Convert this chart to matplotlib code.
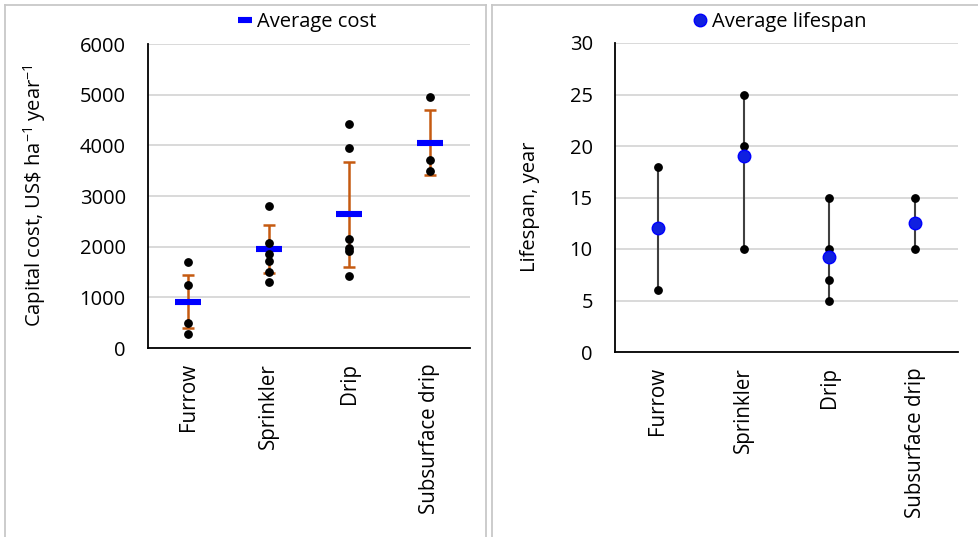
import matplotlib
matplotlib.use('Agg')
import matplotlib.pyplot as plt
from matplotlib.lines import Line2D

# ---------------- data ----------------
categories = ['Furrow', 'Sprinkler', 'Drip', 'Subsurface drip']

cost_points = [
    [1700, 1240, 490, 280],
    [2800, 2080, 1850, 1720, 1500, 1310],
    [4430, 3950, 2150, 1970, 1920, 1430],
    [4950, 3710, 3500],
]
cost_avg = [914, 1954, 2638, 4053]
cost_err_low = [388, 1474, 1592, 3414]
cost_err_high = [1441, 2434, 3671, 4691]

life_points = [
    [18, 6],
    [25, 20, 10],
    [15, 10, 7, 5],
    [15, 10],
]
life_avg = [12, 19, 9.25, 12.5]

cost_ticks = [0, 1000, 2000, 3000, 4000, 5000, 6000]
life_ticks = [0, 5, 10, 15, 20, 25, 30]

# ---------------- style ----------------
plt.rcParams['font.family'] = ['Open Sans', 'DejaVu Sans']
plt.rcParams['mathtext.fontset'] = 'custom'
plt.rcParams['mathtext.rm'] = 'Open Sans'
plt.rcParams['mathtext.it'] = 'Open Sans'
plt.rcParams['mathtext.bf'] = 'Open Sans'

W, H = 979, 537
fig = plt.figure(figsize=(W / 100, H / 100), dpi=100)

def fx(px):
    return px / W

def fy(py):
    return 1 - py / H

grid_c = '#d9d9d9'
err_c = '#C55A11'
blue = '#0000ff'
blue2 = '#1020e0'

def style_axes(ax, ticks):
    ax.set_ylim(ticks[0], ticks[-1])
    ax.set_yticks(ticks)
    ax.set_xlim(-0.5, len(categories) - 0.5)
    ax.set_xticks(range(len(categories)))
    ax.set_xticklabels(categories, rotation=90)
    ax.tick_params(axis='both', length=0, labelsize=14.5)
    ax.tick_params(axis='x', labelsize=14.8, pad=11)
    ax.tick_params(axis='y', pad=16)
    ax.grid(axis='y', color=grid_c, linewidth=1.4)
    ax.set_axisbelow(True)
    for s in ['top', 'right']:
        ax.spines[s].set_visible(False)
    for s in ['left', 'bottom']:
        ax.spines[s].set_color('black')
        ax.spines[s].set_linewidth(1.3)

# ---------------- left panel ----------------
ax1 = fig.add_axes([fx(148), fy(348), fx(470) - fx(148), fy(44) - fy(348)])
style_axes(ax1, cost_ticks)
x = list(range(len(categories)))
yerr = [[a - l for a, l in zip(cost_avg, cost_err_low)],
        [h - a for a, h in zip(cost_avg, cost_err_high)]]
ax1.errorbar(x, cost_avg, yerr=yerr, fmt='none', ecolor=err_c,
             elinewidth=1.8, capsize=4.5, capthick=1.8, zorder=2)
ax1.plot(x, cost_avg, linestyle='none', marker='_', markersize=19,
         markeredgewidth=4.4, color=blue, zorder=3)
for i, pts in enumerate(cost_points):
    ax1.plot([i] * len(pts), pts, linestyle='none', marker='o',
             markersize=5.3, color='black', zorder=4)
ax1.set_ylabel(r'Capital cost, US\$ ha$^{-1}$ year$^{-1}$', fontsize=14.5)
ax1.yaxis.set_label_coords((48 - 148) / 322, 0.5)

h1 = Line2D([], [], linestyle='none', marker='_', markersize=10,
            markeredgewidth=4.4, color=blue)
fig.legend([h1], ['Average cost'], loc='center',
           bbox_to_anchor=(fx(308), fy(22)), frameon=False, fontsize=14.5,
           handlelength=0.6, handletextpad=0.3, borderpad=0, borderaxespad=0)

# ---------------- right panel ----------------
ax2 = fig.add_axes([fx(615), fy(352), fx(958) - fx(615), fy(43) - fy(352)])
style_axes(ax2, life_ticks)
for i, pts in enumerate(life_points):
    ax2.plot([i, i], [min(pts), max(pts)], color='#404040', linewidth=1.5, zorder=2)
    ax2.plot([i] * len(pts), pts, linestyle='none', marker='o',
             markersize=5.3, color='black', zorder=3)
ax2.plot(x, life_avg, linestyle='none', marker='o', markersize=9,
         color=blue2, markeredgecolor=blue, zorder=4)
ax2.set_ylabel('Lifespan, year', fontsize=14.5)
ax2.yaxis.set_label_coords((540 - 615) / 343, 0.47)

h2 = Line2D([], [], linestyle='none', marker='o', markersize=9,
            color=blue2, markeredgecolor=blue)
fig.legend([h2], ['Average lifespan'], loc='center',
           bbox_to_anchor=(fx(780), fy(22)), frameon=False, fontsize=14.5,
           handlelength=0.6, handletextpad=0.3, borderpad=0, borderaxespad=0)

# ---------------- panel borders ----------------
bc = '#c8c8c8'
for xs, ys in [
    ([5, 5], [5, 540]), ([486, 486], [5, 540]), ([5, 486], [5, 5]),
    ([492, 492], [5, 540]), ([492, 985], [5, 5]),
]:
    fig.add_artist(Line2D([fx(v) for v in xs], [fy(v) for v in ys],
                          color=bc, linewidth=1.3))

fig.savefig('out.png', dpi=100)
